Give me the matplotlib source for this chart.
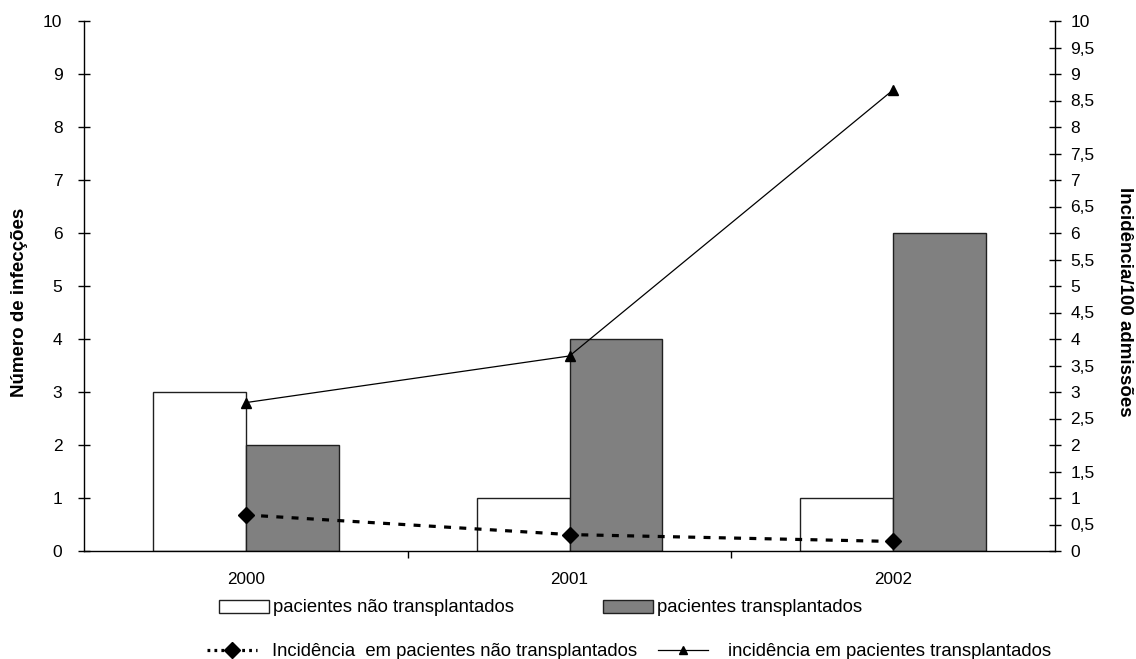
import matplotlib
matplotlib.use("Agg")
import matplotlib.pyplot as plt
import numpy as np
from matplotlib.patches import Patch
from matplotlib.lines import Line2D
from matplotlib.ticker import FixedLocator, FuncFormatter

plt.rcParams['font.family'] = ['Liberation Sans', 'DejaVu Sans']

# Data
years = ["2000", "2001", "2002"]
infec_nao_transpl = [3, 1, 1]          # number of infections, non-transplant patients
infec_transpl = [2, 4, 6]              # number of infections, transplant patients
incid_nao_transpl = [0.68, 0.31, 0.18]  # incidence / 100 admissions, non-transplant
incid_transpl = [2.8, 3.68, 8.7]        # incidence / 100 admissions, transplant

W, H = 1136, 659
fig = plt.figure(figsize=(W / 100, H / 100), dpi=100)
ax = fig.add_axes([84 / W, 1 - 551 / H, (1055 - 84) / W, (551 - 21) / H])
ax2 = ax.twinx()

x = np.arange(len(years))
w = 0.287
ax.bar(x - w / 2, infec_nao_transpl, w, color="white", edgecolor="#202020", linewidth=1.0, zorder=2)
ax.bar(x + w / 2, infec_transpl, w, color="#808080", edgecolor="#202020", linewidth=1.0, zorder=2)

ax.set_xlim(-0.5, 2.5)
ax.set_ylim(0, 10)
ax2.set_ylim(0, 10)

lw_d = 2.3
dash_style = (0, (5 / lw_d, 6 / lw_d))
ax2.plot(x, incid_nao_transpl, color="black", linewidth=lw_d, linestyle=dash_style,
         marker="D", markersize=8.5, zorder=3)
ax2.plot(x, incid_transpl, color="black", linewidth=0.9, marker="^", markersize=6.5, zorder=3)

ax.set_zorder(ax2.get_zorder() - 1)
ax.patch.set_visible(False)

for a in (ax, ax2):
    a.spines["top"].set_visible(False)
    for s in a.spines.values():
        s.set_linewidth(1.0)
ax.spines["right"].set_visible(False)
ax2.spines["left"].set_visible(False)
ax2.spines["bottom"].set_visible(False)

yfs = 12.5
ax.set_yticks(np.arange(0, 11, 1))
ax.tick_params(axis="y", direction="inout", length=9, width=1.0, labelsize=yfs, pad=11)
ax2.set_yticks(np.arange(0, 10.01, 0.5))
ax2.yaxis.set_major_formatter(FuncFormatter(lambda v, p: (f"{v:g}").replace(".", ",")))
ax2.tick_params(axis="y", direction="inout", length=9, width=1.0, labelsize=yfs, pad=6.5)

ax.set_xticks(x)
ax.set_xticklabels(years)
ax.xaxis.set_minor_locator(FixedLocator([0.5, 1.5]))
ax.tick_params(axis="x", which="major", length=0, labelsize=12.3, pad=15)
ax.tick_params(axis="x", which="minor", length=5, width=1.0, direction="out")

ax.set_ylabel("Número de infecções", fontsize=13.5, fontweight="bold")
ax.yaxis.set_label_coords(-0.058, 0.47)
ax2.set_ylabel("Incidência/100 admissões", fontsize=13.5, fontweight="bold", rotation=-90,
               va="bottom")
ax2.yaxis.set_label_coords(1.063, 0.47)

lfs = 13.3


def put_legend(handle, label, xpx, ypx, hl, pad):
    fig.legend(handles=[handle], labels=[label], loc="center left",
               bbox_to_anchor=(xpx / W, 1 - ypx / H), frameon=False,
               fontsize=lfs, handlelength=hl, handletextpad=pad,
               borderaxespad=0, borderpad=0)


put_legend(Patch(facecolor="white", edgecolor="#202020", linewidth=1.0),
           "pacientes não transplantados", 219, 608, 2.7, 0.2)
put_legend(Patch(facecolor="#808080", edgecolor="#202020", linewidth=1.0),
           "pacientes transplantados", 603, 608, 2.7, 0.2)
put_legend(Line2D([], [], color="black", linewidth=lw_d, linestyle=(0, (2 / lw_d, 3 / lw_d)),
                  marker="D", markersize=8),
           "Incidência  em pacientes não transplantados", 207, 652, 2.7, 0.8)
put_legend(Line2D([], [], color="black", linewidth=0.9, marker="^", markersize=6),
           "incidência em pacientes transplantados", 658, 652, 2.7, 1.08)

fig.savefig("out.png", dpi=100)
